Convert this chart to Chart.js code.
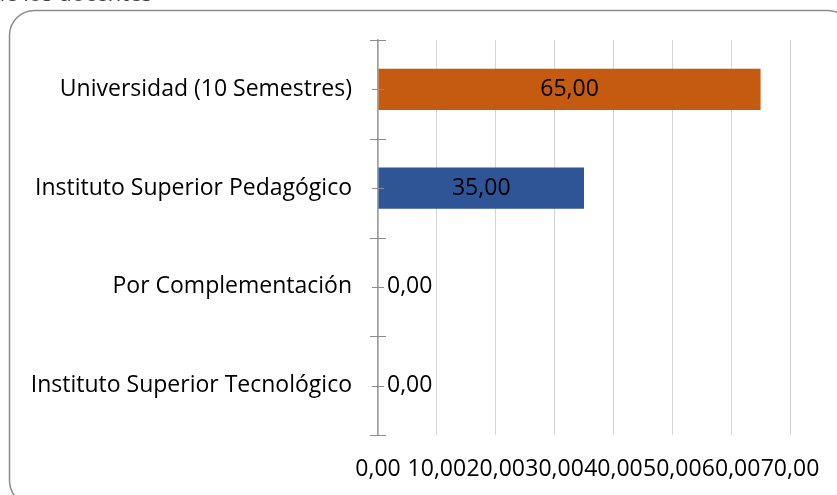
<!DOCTYPE html>
<html lang="es">
<head>
<meta charset="UTF-8">
<title>Formación docente</title>
<script src="https://cdn.jsdelivr.net/npm/chart.js@4.4.0/dist/chart.umd.min.js"></script>
<style>
    html, body { margin: 0; padding: 0; background: #fff; }
    #wrap { width: 837px; height: 495px; }
</style>
</head>
<body>
<div id="wrap"><canvas id="chart" width="837" height="495"></canvas></div>
<script>
// datos
const categories = [
    'Universidad (10 Semestres)',
    'Instituto Superior Pedagógico',
    'Por Complementación',
    'Instituto Superior Tecnológico'
];
const values = [65, 35, 0, 0];
const barColors = ['#C55A11', '#2F5597', '#C55A11', '#2F5597'];
const xTicks = [0, 10, 20, 30, 40, 50, 60, 70];
const titleText = 'Formación de los docentes';

const FONT = '"Open Sans", sans-serif';
const SIZE = 23;
const fmt = v => v.toFixed(2).replace('.', ',');

// marco redondeado y título recortado
const framePlugin = {
    id: 'frame',
    beforeDraw(chart) {
        const ctx = chart.ctx;
        ctx.save();
        ctx.fillStyle = '#404040';
        ctx.font = '22px ' + FONT;
        ctx.textAlign = 'right';
        ctx.textBaseline = 'alphabetic';
        ctx.fillText(titleText, 152, 0.5);
        ctx.strokeStyle = '#8c8c8c';
        ctx.lineWidth = 1.5;
        ctx.beginPath();
        ctx.roundRect(9.5, 10.5, 843, 495, 25);
        ctx.stroke();
        ctx.restore();
    }
};

// marcas del eje de categorías y etiquetas de valores
const marksPlugin = {
    id: 'marks',
    afterDatasetsDraw(chart) {
        const ctx = chart.ctx;
        const y = chart.scales.y;
        const xs = chart.scales.x;
        const ax = xs.getPixelForValue(0);
        ctx.save();
        ctx.strokeStyle = '#8c8c8c';
        ctx.lineWidth = 1;
        ctx.beginPath();
        for (let i = 0; i < categories.length; i++) {
            const c = Math.round(y.getPixelForValue(i)) + 0.5;
            ctx.moveTo(ax - 6, c); ctx.lineTo(ax + 6, c);
        }
        const step = (y.bottom - y.top) / categories.length;
        for (let i = 0; i <= categories.length; i++) {
            const b = Math.round(y.top + i * step) + 0.5;
            ctx.moveTo(ax - 8, b); ctx.lineTo(ax + 8, b);
        }
        ctx.stroke();

        ctx.fillStyle = '#000';
        ctx.font = SIZE + 'px ' + FONT;
        ctx.textBaseline = 'middle';
        const meta = chart.getDatasetMeta(0);
        meta.data.forEach((bar, i) => {
            const v = values[i];
            if (v > 0) {
                ctx.textAlign = 'center';
                ctx.fillText(fmt(v), (bar.base + bar.x) / 2, bar.y);
            } else {
                ctx.textAlign = 'left';
                ctx.fillText(fmt(v), ax + 9, bar.y);
            }
        });
        ctx.restore();
    }
};

new Chart(document.getElementById('chart'), {
    type: 'bar',
    data: {
        labels: categories,
        datasets: [{
            data: values,
            backgroundColor: barColors,
            borderWidth: 0,
            categoryPercentage: 1,
            barPercentage: 0.42
        }]
    },
    options: {
        indexAxis: 'y',
        responsive: false,
        animation: false,
        layout: { padding: { top: 40, right: 47, left: 0, bottom: 0 } },
        plugins: {
            legend: { display: false },
            tooltip: { enabled: false }
        },
        scales: {
            x: {
                min: 0,
                max: 70,
                afterBuildTicks: s => { s.ticks = xTicks.map(v => ({ value: v })); },
                afterFit: s => { s.height = 60; s.paddingLeft = 0; s.paddingRight = 0; },
                grid: { color: '#d4d4d4', lineWidth: 1, drawTicks: false },
                border: { display: false },
                ticks: {
                    autoSkip: false,
                    maxRotation: 0,
                    padding: 21,
                    color: '#000',
                    font: { family: FONT, size: SIZE },
                    callback: v => fmt(v)
                }
            },
            y: {
                afterFit: s => { s.width = 378; },
                grid: { display: false, drawTicks: false },
                border: { display: true, color: '#a0a0a0', width: 1.5 },
                ticks: {
                    padding: 26,
                    color: '#000',
                    font: { family: FONT, size: SIZE }
                }
            }
        }
    },
    plugins: [framePlugin, marksPlugin]
});
</script>
</body>
</html>
